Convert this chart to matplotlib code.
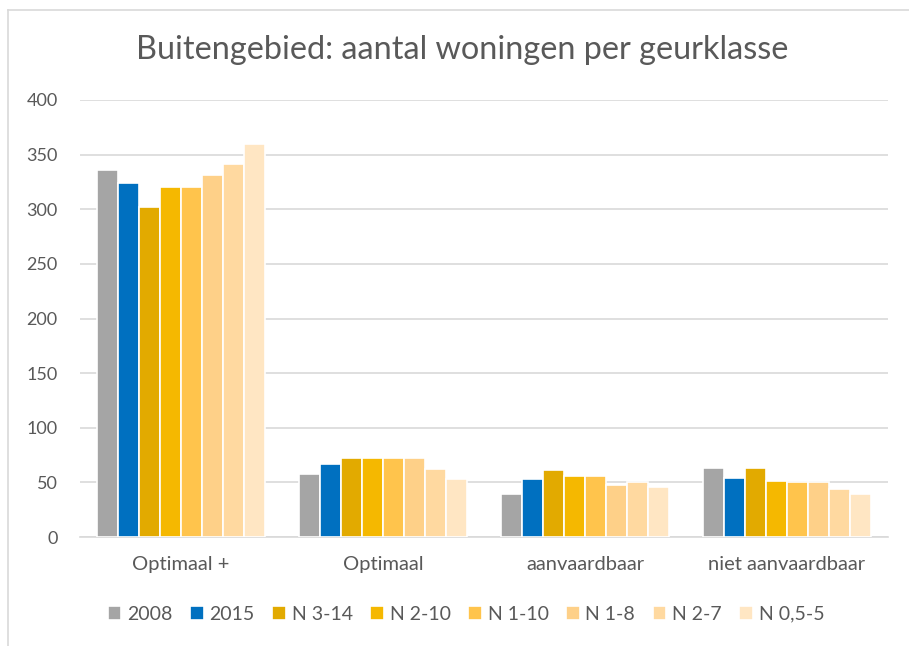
import matplotlib
matplotlib.use('Agg')
import matplotlib.pyplot as plt
import numpy as np
from matplotlib.lines import Line2D

plt.rcParams['font.family'] = ['Lato', 'DejaVu Sans']

# categories and series
categories = ['Optimaal +', 'Optimaal', 'aanvaardbaar', 'niet aanvaardbaar']
series = ['2008', '2015', 'N 3-14', 'N 2-10', 'N 1-10', 'N 1-8', 'N 2-7', 'N 0,5-5']
values = [
    [336, 58, 39, 63],   # 2008
    [324, 67, 53, 54],   # 2015
    [302, 72, 61, 63],   # N 3-14
    [320, 72, 56, 51],   # N 2-10
    [320, 72, 56, 50],   # N 1-10
    [331, 72, 48, 50],   # N 1-8
    [341, 62, 50, 44],   # N 2-7
    [360, 53, 46, 39],   # N 0,5-5
]
colors = ['#A5A5A5', '#0070C0', '#E2AA00', '#F5B800', '#FFC44C', '#FED088', '#FFD9A0', '#FFE6C3']

text_color = '#595959'

fig = plt.figure(figsize=(9.09, 6.46), dpi=100)
ax = fig.add_axes([80/909, 1 - 537/646, 808/909, 437/646])

x = np.arange(len(categories))
w = 0.104
for i, (name, vals) in enumerate(zip(series, values)):
    ax.bar(x + (i - 3.5) * w, vals, width=w, color=colors[i], edgecolor='white',
           linewidth=1.2, label=name, zorder=3)

ax.set_xlim(-0.5, 3.5)
ax.set_ylim(0, 400)
ax.set_yticks(range(0, 401, 50))
ax.set_xticks(x)
ax.set_xticklabels(categories, fontsize=14.5)
ax.grid(axis='y', color='#D9D9D9', linewidth=1.2, zorder=0)
for s in ['top', 'right', 'left']:
    ax.spines[s].set_visible(False)
ax.spines['bottom'].set_color('#D9D9D9')
ax.spines['bottom'].set_linewidth(1.2)
ax.tick_params(axis='both', length=0, colors=text_color)
ax.tick_params(axis='y', pad=16, labelsize=13)
ax.tick_params(axis='x', pad=14)

fig.text(462/909, 1 - 50/646, 'Buitengebied: aantal woningen per geurklasse',
         ha='center', va='center', fontsize=23.3, color=text_color)

ax.legend(loc='center', bbox_to_anchor=((466 - 80) / 808, (537 - 614) / 437), ncol=8,
          frameon=False, fontsize=14, labelcolor=text_color, handlelength=0.7,
          handleheight=0.7, handletextpad=0.3, columnspacing=0.9)

# chart border
fig.add_artist(Line2D([8/909, 8/909], [0, 1 - 10/646], color='#D9D9D9', linewidth=1.2))
fig.add_artist(Line2D([8/909, 1], [1 - 10/646, 1 - 10/646], color='#D9D9D9', linewidth=1.2))

fig.savefig('out.png', dpi=100)
